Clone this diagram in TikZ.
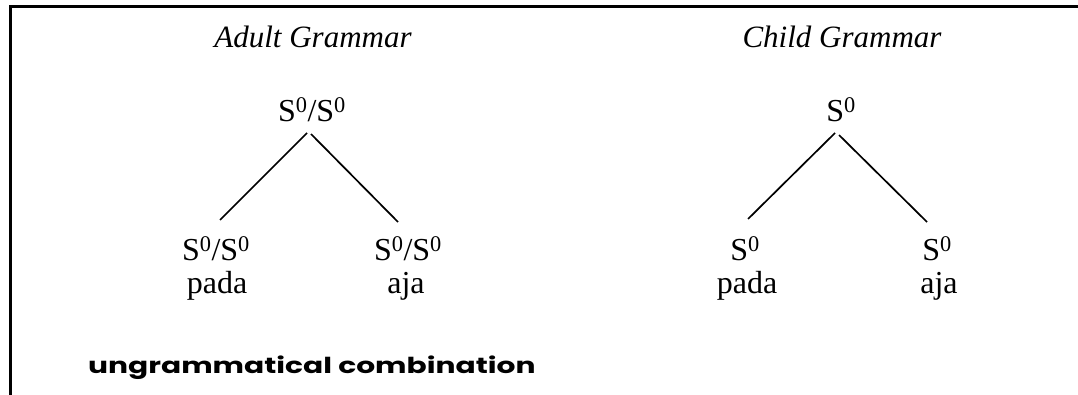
\documentclass[tikz,border=0pt]{standalone}
\usepackage{fontspec}
\setmainfont{Liberation Serif}
\newfontfamily\handfont{Poppins}[FakeStretch=1.35]
\usepackage{tikz}
\tikzset{
cat/.style={
  inner sep=0pt,
  anchor=base,
  font=\fontsize{32}{32}\selectfont
},
title/.style={cat, font=\fontsize{31}{31}\selectfont\itshape},
branch/.style={line width=1.7pt},
frame/.style={line width=3pt}
}
\newcommand{\Szero}{S\textsuperscript{0}}

\begin{document}
\begin{tikzpicture}[x=1pt,y=-1pt]
\useasboundingbox (0,0) rectangle (1078,395);
% the frame
\draw[frame] (10,395) -- (10,6.5) -- (1078,6.5);
% adult grammar
\node[title] (atitle) at (313,48) {Adult Grammar};
\node[cat] (aroot) at (312,122) {\Szero/\Szero};
\node[cat] (aleft) at (216,261) {\Szero/\Szero};
\node[cat] (aright) at (408,261) {\Szero/\Szero};
\node[cat] (apada) at (217,293) {pada};
\node[cat] (aaja) at (406,293) {aja};
% child grammar
\node[title] (ctitle) at (842,48) {Child Grammar};
\node[cat] (croot) at (841,122) {\Szero};
\node[cat] (cleft) at (745,261) {\Szero};
\node[cat] (cright) at (937,261) {\Szero};
\node[cat] (cpada) at (747,293) {pada};
\node[cat] (caja) at (939,293) {aja};
% the branches
\draw[branch] ([xshift=-5pt,yshift=-11pt]aroot.base) -- ([xshift=4pt,yshift=41pt]aleft.base);
\draw[branch] ([xshift=-1pt,yshift=-12pt]aroot.base) -- ([xshift=-10pt,yshift=39pt]aright.base);
\draw[branch] ([xshift=-6pt,yshift=-11pt]croot.base) -- ([xshift=3pt,yshift=42pt]cleft.base);
\draw[branch] ([xshift=-2pt,yshift=-13pt]croot.base) -- ([xshift=-10pt,yshift=39pt]cright.base);
% the note
\node[cat, anchor=base west, font=\fontsize{22}{22}\handfont\bfseries] (note) at (88,373) {ungrammatical combination};
\end{tikzpicture}
\end{document}
